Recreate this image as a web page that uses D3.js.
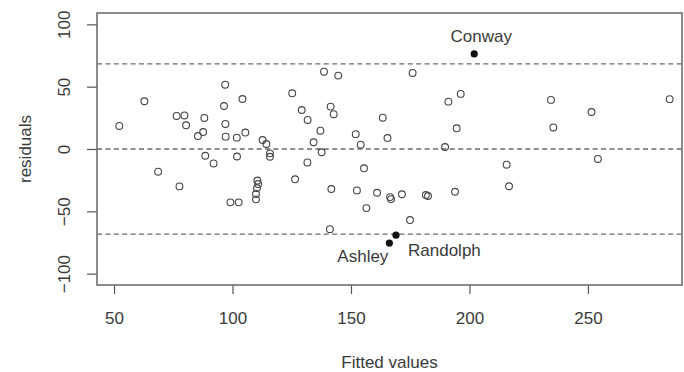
<!DOCTYPE html>
<html>
<head>
<meta charset="utf-8">
<script src="https://cdn.jsdelivr.net/npm/d3@7"></script>
<style>
  html, body { margin: 0; padding: 0; background: #fff; }
  svg { display: block; }
  text { font-family: "Liberation Sans", Arial, sans-serif; fill: #3a3a3a; }
</style>
</head>
<body>
<svg id="chart" width="684" height="372"></svg>
<script>
// fitted values / residuals
const fitted = [
  52.2, 62.8, 68.6, 76.4, 77.6, 79.7, 80.4, 88.1, 87.6, 85.4,
  88.5, 92.0, 96.9, 96.4, 97.0, 97.1, 101.8, 105.4, 104.2, 101.9,
  99.1, 102.6, 112.7, 114.3, 115.8, 115.8, 110.5, 110.8, 110.3, 109.9,
  109.9, 125.2, 129.2, 131.7, 137.1, 134.2, 137.6, 131.6, 126.4, 138.6,
  144.6, 141.4, 142.7, 141.7, 141.1, 152.0, 154.1, 155.5, 152.5, 156.5,
  161.0, 163.4, 165.4, 166.5, 166.9, 171.5, 174.9, 176.0, 181.6, 182.5,
  189.7, 191.1, 196.3, 194.6, 193.9, 215.7, 216.7, 234.4, 235.4, 251.5,
  254.2, 284.5
];
const residuals = [
  18.5, 38.3, -18.2, 26.5, -30.0, 26.9, 19.0, 24.9, 13.6, 10.4,
  -5.4, -11.6, 51.6, 34.5, 20.1, 9.9, 9.1, 13.2, 40.1, -6.0,
  -42.8, -42.8, 7.2, 4.0, -3.5, -6.2, -25.3, -28.1, -31.3, -36.1,
  -40.4, 44.7, 31.3, 23.3, 14.7, 5.4, -2.6, -10.8, -24.3, 62.0,
  58.9, 34.0, 27.9, -32.1, -64.3, 11.9, 3.5, -15.5, -33.2, -47.4,
  -35.1, 25.1, 8.8, -38.6, -40.2, -36.3, -57.0, 61.0, -36.9, -37.7,
  1.6, 38.0, 44.2, 16.6, -34.3, -12.6, -29.9, 39.4, 17.3, 29.7,
  -8.0, 40.0
];

// flagged observations
const flagNames = ["Conway", "Ashley", "Randolph"];
const flagFitted = [202.0, 166.2, 169.0];
const flagResiduals = [76.3, -75.5, -69.1];

const xTicks = [50, 100, 150, 200, 250];
const yTicks = [-100, -50, 0, 50, 100];
const refLines = [-68.3, 0, 68.3];

const xTitle = "Fitted values";
const yTitle = "residuals";

const svg = d3.select("#chart");
const plot = { left: 97, right: 682, top: 13, bottom: 285 };

const x = d3.scaleLinear().domain([42.8, 289.7]).range([plot.left, plot.right]);
const y = d3.scaleLinear().domain([-109.1, 109.1]).range([plot.bottom, plot.top]);

// reference lines
svg.append("g")
  .selectAll("line")
  .data(refLines)
  .enter()
  .append("line")
  .attr("x1", plot.left).attr("x2", plot.right)
  .attr("y1", d => y(d)).attr("y2", d => y(d))
  .attr("stroke", "#6a6a6a")
  .attr("stroke-width", 1.3)
  .attr("stroke-dasharray", "5,3.4");

// axes
const xAxis = svg.append("g")
  .attr("transform", `translate(0,${plot.bottom})`)
  .call(d3.axisBottom(x).tickValues(xTicks).tickSize(9).tickPadding(18).tickFormat(d3.format("d")));
const yAxis = svg.append("g")
  .attr("transform", `translate(${plot.left},0)`)
  .call(d3.axisLeft(y).tickValues(yTicks).tickSize(10).tickFormat(d3.format("d")));

[xAxis, yAxis].forEach(g => {
  g.select(".domain").remove();
  g.selectAll(".tick line").attr("stroke", "#555").attr("stroke-width", 1.2);
  g.selectAll(".tick text")
    .style("font-size", "17px")
    .style("font-family", "'Liberation Sans', Arial, sans-serif")
    .attr("fill", "#3a3a3a");
});

// rotated y tick labels like R's default
yAxis.selectAll(".tick text")
  .attr("x", null).attr("dy", null)
  .attr("text-anchor", "middle")
  .attr("transform", "translate(-27,0) rotate(-90)");

// plot box
svg.append("rect")
  .attr("x", plot.left).attr("y", plot.top)
  .attr("width", plot.right - plot.left)
  .attr("height", plot.bottom - plot.top)
  .attr("fill", "none")
  .attr("stroke", "#6f6f6f")
  .attr("stroke-width", 1.6);

// points
svg.append("g")
  .selectAll("circle")
  .data(d3.range(fitted.length))
  .enter()
  .append("circle")
  .attr("cx", i => x(fitted[i]))
  .attr("cy", i => y(residuals[i]))
  .attr("r", 3.4)
  .attr("fill", "none")
  .attr("stroke", "#444")
  .attr("stroke-width", 1.1);

// flagged points and names
const labelOffset = {
  Conway: { dx: 7, dy: -12, anchor: "middle" },
  Ashley: { dx: -1, dy: 19, anchor: "end" },
  Randolph: { dx: 12, dy: 21, anchor: "start" }
};

svg.append("g")
  .selectAll("circle")
  .data(d3.range(flagNames.length))
  .enter()
  .append("circle")
  .attr("cx", i => x(flagFitted[i]))
  .attr("cy", i => y(flagResiduals[i]))
  .attr("r", 3.6)
  .attr("fill", "#111");

svg.append("g")
  .selectAll("text")
  .data(d3.range(flagNames.length))
  .enter()
  .append("text")
  .attr("x", i => x(flagFitted[i]) + labelOffset[flagNames[i]].dx)
  .attr("y", i => y(flagResiduals[i]) + labelOffset[flagNames[i]].dy)
  .attr("text-anchor", i => labelOffset[flagNames[i]].anchor)
  .style("font-size", "17px")
  .text(i => flagNames[i]);

// axis titles
svg.append("text")
  .attr("x", (plot.left + plot.right) / 2)
  .attr("y", 368)
  .attr("text-anchor", "middle")
  .style("font-size", "17px")
  .text(xTitle);

svg.append("text")
  .attr("transform", `translate(31,${(plot.top + plot.bottom) / 2}) rotate(-90)`)
  .attr("text-anchor", "middle")
  .style("font-size", "17px")
  .text(yTitle);
</script>
</body>
</html>
